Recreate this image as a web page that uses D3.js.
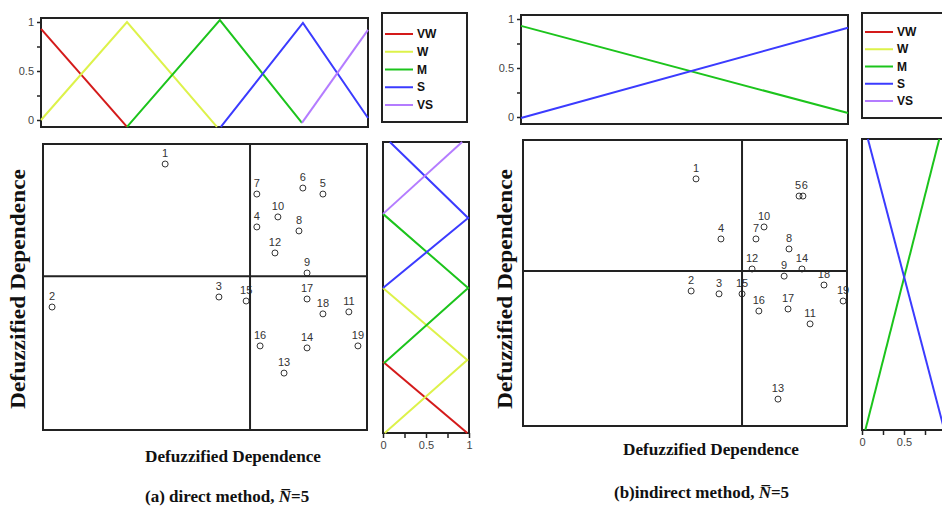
<!DOCTYPE html>
<meta charset="utf-8">
<title>Fuzzy cause-effect maps</title>
<style>
body { margin: 0; background: #fff; }
svg { display: block; }
.frame { fill: none; stroke: #222; stroke-width: 2; }
.tick text { font: 11px "Liberation Sans", Arial, sans-serif; fill: #444; }
.tick line { stroke: #222; stroke-width: 1.5; }
.domain { display: none; }
.pt circle { fill: none; stroke: #333; stroke-width: 1; }
.pt text { font: 11px "Liberation Sans", Arial, sans-serif; fill: #333; text-anchor: middle; }
.leg text { font: bold 12px "Liberation Sans", Arial, sans-serif; fill: #111; }
.title { font-family: "Liberation Serif", "Times New Roman", serif; font-weight: bold; fill: #111; }
</style>
<svg width="942" height="510"></svg>
<script src="https://d3js.org/d3.v7.min.js"></script>
<script>
var terms = ["VW", "W", "M", "S", "VS"];
var termColors = ["#d41a1a", "#ddf24a", "#1cc41c", "#3b3bff", "#b47cff"];
var ids = d3.range(1, 20);

// (a) direct method: factor positions inside the map (0..1)
var directX = [0.377, 0.028, 0.543, 0.660, 0.864, 0.802, 0.660, 0.790, 0.815, 0.725,
               0.944, 0.716, 0.744, 0.815, 0.627, 0.670, 0.815, 0.864, 0.972];
var directY = [0.930, 0.430, 0.465, 0.710, 0.825, 0.846, 0.825, 0.696, 0.549, 0.745,
               0.413, 0.619, 0.199, 0.287, 0.451, 0.294, 0.458, 0.406, 0.294];
var directCut = [0.639, 0.538];

// (b) indirect method
var indirectX = [0.534, 0.519, 0.605, 0.611, 0.852, 0.864, 0.719, 0.821, 0.806, 0.744,
                 0.886, 0.707, 0.787, 0.861, 0.676, 0.728, 0.818, 0.929, 0.988];
var indirectY = [0.864, 0.472, 0.462, 0.654, 0.804, 0.804, 0.654, 0.619, 0.524, 0.696,
                 0.357, 0.549, 0.094, 0.549, 0.462, 0.402, 0.409, 0.493, 0.437];
var indirectCut = [0.676, 0.542];

// membership functions, top strip: [position, membership]
var directTop = {
  VW: [[0, 0.93], [0.263, -0.07]],
  W:  [[0, 0], [0.263, 1], [0.538, -0.07]],
  M:  [[0.263, -0.07], [0.547, 1.02], [0.798, -0.03]],
  S:  [[0.550, -0.07], [0.801, 0.99], [1, 0.02]],
  VS: [[0.798, -0.03], [1, 0.92]]
};
// side strip: [membership, position]
var directSide = {
  VW: [[0.98, 0], [0, 0.245]],
  W:  [[0.02, 0], [0.98, 0.251], [0, 0.498]],
  M:  [[0.01, 0.24], [0.99, 0.498], [0, 0.753]],
  S:  [[0, 0.498], [0.99, 0.739], [0.08, 1]],
  VS: [[0, 0.753], [0.92, 1]]
};
var indirectTop = {
  M: [[0, 0.93], [1, 0.04]],
  S: [[0, -0.01], [1, 0.91]]
};
var indirectSide = {
  M: [[0.04, 0], [0.92, 1]],
  S: [[0.98, 0], [0.07, 1]]
};

var svg = d3.select("svg");
var line = d3.line();

function frame(g, x0, y0, x1, y1) {
  g.append("rect").attr("class", "frame")
    .attr("x", x0).attr("y", y0).attr("width", x1 - x0).attr("height", y1 - y0);
}

function fmt(d) { return (d === 0.25 || d === 0.75) ? "" : String(d); }

function panel(p) {
  var g = svg.append("g");

  // top strip
  var tx = d3.scaleLinear().range(p.top.x);
  var ty = d3.scaleLinear().range(p.top.y);
  frame(g, p.top.x[0], p.top.box[0], p.top.x[1], p.top.box[1]);
  g.append("g").attr("transform", "translate(" + p.top.x[0] + ",0)")
    .call(d3.axisLeft(ty).tickValues([0, 0.25, 0.5, 0.75, 1]).tickSize(4).tickFormat(fmt));
  Object.keys(p.topData).forEach(function(k) {
    g.append("path")
      .attr("d", line(p.topData[k].map(function(d) { return [tx(d[0]), ty(d[1])]; })))
      .attr("fill", "none").attr("stroke-width", 2)
      .attr("stroke", termColors[terms.indexOf(k)]);
  });

  // legend
  var lg = g.append("g").attr("class", "leg");
  frame(lg, p.leg.box[0], p.leg.box[1], p.leg.box[2], p.leg.box[3]);
  var ly = d3.scalePoint().domain(terms).range(p.leg.y);
  terms.forEach(function(t, i) {
    lg.append("line")
      .attr("x1", p.leg.box[0] + 3).attr("x2", p.leg.box[0] + 31)
      .attr("y1", ly(t)).attr("y2", ly(t))
      .attr("stroke", termColors[i]).attr("stroke-width", 2);
    lg.append("text").attr("x", p.leg.box[0] + 35).attr("y", ly(t))
      .attr("dy", "0.35em").text(t);
  });

  // side strip
  var sx = d3.scaleLinear().range(p.side.x);
  var sy = d3.scaleLinear().range(p.side.y);
  frame(g, p.side.x[0], p.side.y[1], p.side.box, p.side.y[0]);
  g.append("g").attr("transform", "translate(0," + p.side.y[0] + ")")
    .call(d3.axisBottom(sx).tickValues([0, 0.25, 0.5, 0.75, 1]).tickSize(5)
      .tickFormat(function(d) { return (d === 1 && !p.side.showOne) ? "" : fmt(d); }));
  Object.keys(p.sideData).forEach(function(k) {
    g.append("path")
      .attr("d", line(p.sideData[k].map(function(d) { return [sx(d[0]), sy(d[1])]; })))
      .attr("fill", "none").attr("stroke-width", 2)
      .attr("stroke", termColors[terms.indexOf(k)]);
  });

  // cause-effect map
  var mx = d3.scaleLinear().range(p.map.x);
  var my = d3.scaleLinear().range(p.map.y);
  var pts = g.selectAll(".pt").data(ids).enter().append("g").attr("class", "pt")
    .attr("transform", function(d, i) {
      return "translate(" + mx(p.xs[i]) + "," + my(p.ys[i]) + ")";
    });
  pts.append("circle").attr("r", 3);
  pts.append("text").attr("x", function(d) { return p.nudge[d] || 0; })
    .attr("y", -7).text(function(d) { return d; });

  g.append("line").attr("x1", mx(p.cut[0])).attr("x2", mx(p.cut[0]))
    .attr("y1", p.map.y[0]).attr("y2", p.map.y[1])
    .attr("stroke", "#222").attr("stroke-width", 2);
  g.append("line").attr("x1", p.map.x[0]).attr("x2", p.map.x[1])
    .attr("y1", my(p.cut[1])).attr("y2", my(p.cut[1]))
    .attr("stroke", "#222").attr("stroke-width", 2);
  frame(g, p.map.x[0], p.map.y[1], p.map.x[1], p.map.y[0]);

  // titles
  g.append("text").attr("class", "title")
    .attr("transform", "translate(" + p.ytitle + ",289) rotate(-90)")
    .attr("text-anchor", "middle").attr("dy", "0.35em")
    .style("font-size", "20px").attr("textLength", 240).attr("lengthAdjust", "spacingAndGlyphs")
    .text("Defuzzified Dependence");
  g.append("text").attr("class", "title")
    .attr("x", p.xtitle[0]).attr("y", p.xtitle[1])
    .attr("text-anchor", "middle").style("font-size", "17px")
    .attr("textLength", 176).attr("lengthAdjust", "spacingAndGlyphs")
    .text("Defuzzified Dependence");

  var cap = g.append("text").attr("class", "title")
    .attr("x", p.cap[0]).attr("y", p.cap[1]).style("font-size", "17px");
  cap.append("tspan").text(p.capText);
  cap.append("tspan").style("font-style", "italic").text("N\u0305");
  cap.append("tspan").text("=5");
}

panel({
  top: { x: [41, 368], y: [120, 22], box: [18, 127] },
  topData: directTop,
  leg: { box: [382, 13, 467, 122], y: [34, 105] },
  side: { x: [383, 469], y: [433, 142], box: 469, showOne: true },
  sideData: directSide,
  map: { x: [43, 367], y: [430, 144] },
  xs: directX, ys: directY, cut: directCut, nudge: {},
  ytitle: 18, xtitle: [233, 462],
  cap: [145, 502], capText: "(a)  direct method, "
});

panel({
  top: { x: [521, 848], y: [117, 19], box: [15, 124] },
  topData: indirectTop,
  leg: { box: [862, 13, 952, 118], y: [32, 101] },
  side: { x: [862, 946], y: [430, 139], box: 946, showOne: false },
  sideData: indirectSide,
  map: { x: [523, 847], y: [426, 140] },
  xs: indirectX, ys: indirectY, cut: indirectCut, nudge: { 5: -1, 6: 2 },
  ytitle: 505, xtitle: [711, 455],
  cap: [614, 498], capText: "(b)indirect method, "
});
</script>
